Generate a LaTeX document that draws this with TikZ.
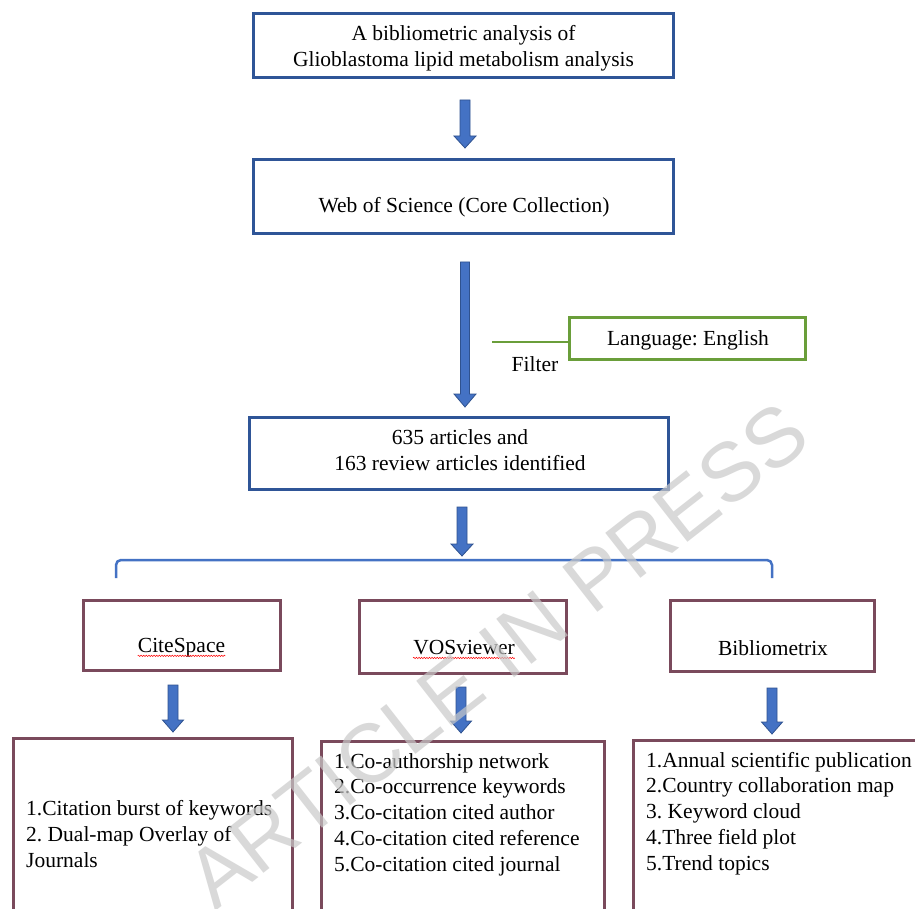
\documentclass[tikz,border=0pt]{standalone}
\usepackage{fontspec}
\setmainfont{Liberation Serif}
\newfontfamily\wmfont{Liberation Sans}
\usetikzlibrary{calc,decorations.pathmorphing}
\definecolor{boxblue}{HTML}{2F5597}
\definecolor{arrfill}{HTML}{4472C4}
\definecolor{arrline}{HTML}{2F528F}
\definecolor{brblue}{HTML}{4472C4}
\definecolor{boxgreen}{HTML}{6A9E3A}
\definecolor{boxmaroon}{HTML}{7A4A5C}
\newcommand\blockarr[5]{%
  \filldraw[fill=arrfill, draw=arrline, line width=0.8pt]
    let \p1=#1, \p2=#2 in
    (\x1-#3,\y1) -- (\x1+#3,\y1) -- (\x1+#3,\y2+#5) -- (\x1+#4,\y2+#5)
    -- (\x1,\y2) -- (\x1-#4,\y2+#5) -- (\x1-#3,\y2+#5) -- cycle;}
\frenchspacing
\begin{document}
\begin{tikzpicture}[x=1pt,y=-1pt,
  font=\fontsize{21.5}{25.8}\selectfont,
  bluebox/.style={draw=boxblue, line width=3pt, inner sep=0pt, align=center},
  greenbox/.style={draw=boxgreen, line width=3pt, inner sep=0pt, align=center},
  toolbox/.style={draw=boxmaroon, line width=3pt, inner sep=0pt},
  txt/.style={inner sep=0pt, align=center},
  listtxt/.style={inner sep=0pt, align=left, anchor=west},
  wavy/.style={red, line width=0.5pt, decorate, decoration={snake, amplitude=0.7pt, segment length=2.6pt}},
  wm/.style={font={\wmfont\fontsize{83}{83}\selectfont}, text=black!21, text opacity=0.7, rotate=38, inner sep=0pt}]
\clip (0,0) rectangle (915,909);
\fill[white] (0,0) rectangle (915,909);
% main boxes
\node[bluebox, minimum width=420pt, minimum height=64pt] (b1) at (463.5,45.5) {};
\node[txt] (b1t) at (463.5,48.5) {A bibliometric analysis of\\ Glioblastoma lipid metabolism analysis};
\node[bluebox, minimum width=420pt, minimum height=74pt] (b2) at (463.5,196.5) {};
\node[txt] (b2t) at (464,207.5) {Web of Science (Core Collection)};
\node[greenbox, minimum width=236pt, minimum height=42pt] (lang) at (687.5,338.5) {};
\node[txt] (langt) at (688,340.5) {Language: English};
\node[txt] (filt) at (535,364) {Filter};
\node[bluebox, minimum width=419pt, minimum height=72pt] (b3) at (459,453.5) {};
\node[txt] (b3t) at (460,450) {635 articles and\\ 163 review articles identified};
% tool boxes
\node[toolbox, minimum width=197pt, minimum height=70pt] (cs) at (182,635.5) {};
\node[toolbox, minimum width=207pt, minimum height=73pt] (vos) at (463,637) {};
\node[toolbox, minimum width=204pt, minimum height=71pt] (bib) at (772.5,636) {};
\node[txt] (cst) at (181.5,648) {CiteSpace};
\node[txt] (vost) at (464,648) {VOSviewer};
\node[txt] (bibt) at (773,648) {Bibliometrix};
% result boxes
\node[toolbox, minimum width=279pt, minimum height=250pt, anchor=north] (bl) at (153,737) {};
\node[toolbox, minimum width=283pt, minimum height=250pt, anchor=north] (bm) at (463,740) {};
\node[toolbox, minimum width=287pt, minimum height=250pt, anchor=north] (br) at (777,739) {};
\node[listtxt] (blt) at (26,834) {1.Citation burst of keywords\\2. Dual-map Overlay of\\Journals};
\node[listtxt] (bmt) at (334,814.5) {1.Co-authorship network\\2.Co-occurrence keywords\\3.Co-citation cited author\\4.Co-citation cited reference\\5.Co-citation cited journal};
\node[listtxt] (brt) at (646,813.5) {1.Annual scientific publication\\2.Country collaboration map\\3. Keyword cloud\\4.Three field plot\\5.Trend topics};
% spell-check underlines
\draw[wavy] ($(cst.base west)+(0,-3pt)$) -- ($(cst.base east)+(0,-3pt)$);
\draw[wavy] ($(vost.base west)+(0,-3pt)$) -- ($(vost.base east)+(0,-3pt)$);
% filter line
\coordinate (filtL) at (492,342);
\draw[boxgreen, line width=2pt] (filtL) -- (filtL -| lang.west);
% bracket
\coordinate (brL) at (116,578);
\coordinate (brR) at (772,578);
\coordinate (brM) at (462,560);
\draw[brblue, line width=2.5pt, rounded corners=5pt] (brL) |- (brM) -| (brR);
% block arrows
\blockarr{($(b1.south)+(1.5pt,-21pt)$)}{($(b2.north)+(1.5pt,10pt)$)}{5pt}{11pt}{12pt}
\blockarr{($(b2.south)+(1.5pt,-27pt)$)}{($(b3.north)+(6pt,9pt)$)}{4.5pt}{11pt}{13pt}
\blockarr{($(b3.south)+(3pt,-16pt)$)}{($(brM)+(0,4pt)$)}{5pt}{11pt}{12pt}
\blockarr{($(cs.south)+(-9pt,-13pt)$)}{($(bl.north)+(20pt,5pt)$)}{5pt}{10.5pt}{12pt}
\blockarr{($(vos.south)+(-2pt,-12pt)$)}{($(bm.north)+(-2pt,7pt)$)}{5pt}{10.5pt}{12pt}
\blockarr{($(bib.south)+(-0.5pt,-15pt)$)}{($(br.north)+(-5pt,5pt)$)}{5pt}{10.5pt}{12pt}
% watermark
\node[wm] (wmk) at (497,655) {ARTICLE IN PRESS};
\end{tikzpicture}
\end{document}
